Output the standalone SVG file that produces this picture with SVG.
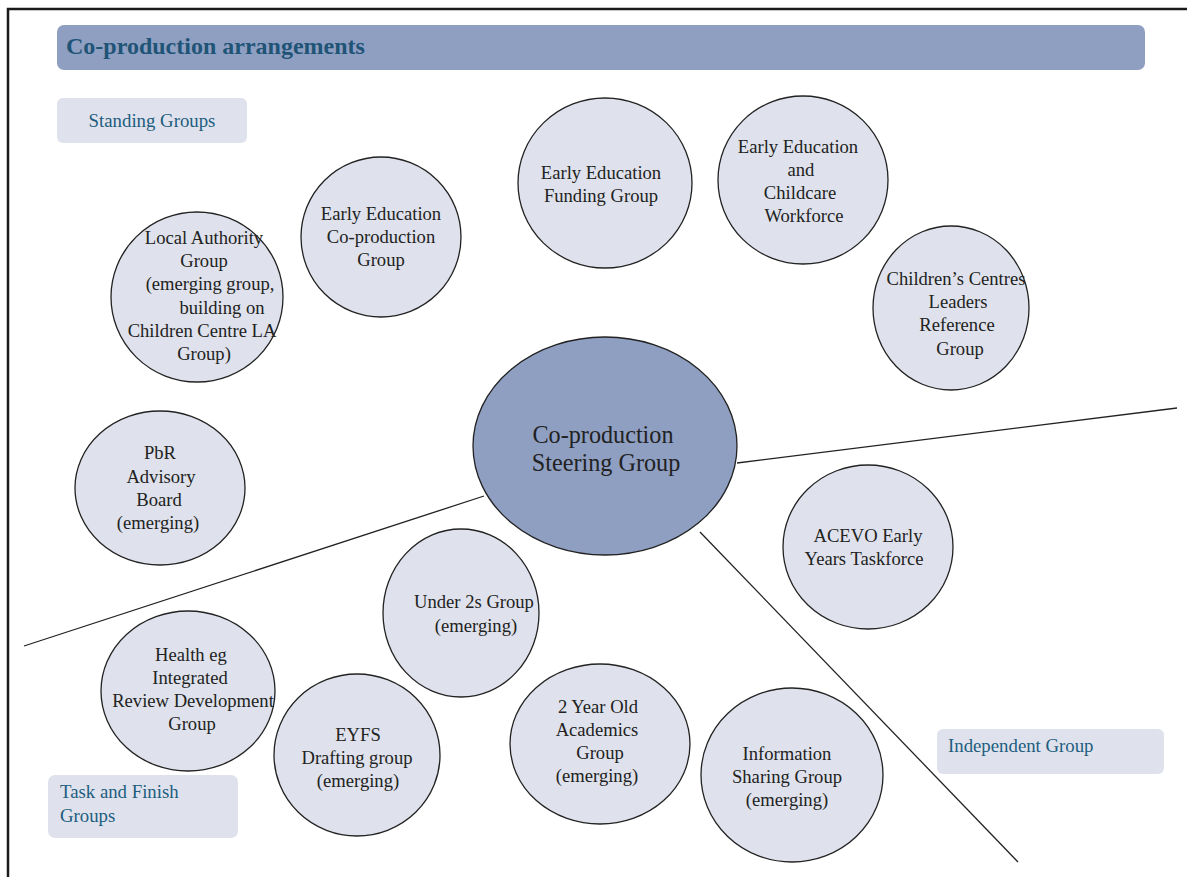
<svg xmlns="http://www.w3.org/2000/svg" width="1187" height="877" viewBox="0 0 1187 877">
<style>
.n{fill:#dfe2ec;stroke:#222;stroke-width:1.3}
.hub{fill:#8f9fc2;stroke:#222;stroke-width:1.3}
.t{font-family:"Liberation Serif","Times New Roman",serif;font-size:18.6px;fill:#222;text-anchor:middle}
.ht{font-family:"Liberation Serif","Times New Roman",serif;font-size:24.2px;fill:#222;text-anchor:middle}
.lb{fill:#dfe2ec}
.lt{font-family:"Liberation Serif","Times New Roman",serif;font-size:18.8px;fill:#215d80}
.c line{stroke:#222;stroke-width:1.3}
</style>
<rect width="1187" height="877" fill="#fff"/>
<path d="M8 877 V9 H1187" fill="none" stroke="#1a1a1a" stroke-width="2.5"/>
<g id="title">
<rect x="57" y="25" width="1088" height="45" rx="7" fill="#8f9fc2"/>
<text x="66" y="54" font-family="'Liberation Serif','Times New Roman',serif" font-size="24px" font-weight="bold" fill="#1f5476">Co-production arrangements</text>
</g>
<g id="label-standing"><rect class="lb" x="57" y="98" width="190" height="45" rx="6"/><text class="lt" x="152" y="127" text-anchor="middle">Standing Groups</text></g>
<g id="label-task"><rect class="lb" x="48" y="775" width="190" height="63" rx="7"/><text class="lt" x="60" y="798">Task and Finish</text><text class="lt" x="60" y="822">Groups</text></g>
<g id="label-independent"><rect class="lb" x="937" y="729" width="227" height="45" rx="6"/><text class="lt" x="948" y="752">Independent Group</text></g>
<g id="connectors" class="c">
<line x1="24" y1="646" x2="484" y2="496"/>
<line x1="737" y1="463" x2="1177" y2="408"/>
<line x1="700" y1="532" x2="1018" y2="862"/>
</g>
<g id="local-authority"><ellipse class="n" cx="197" cy="297" rx="86" ry="85"/>
<text class="t"><tspan x="204" y="244">Local Authority</tspan><tspan x="204" y="267">Group</tspan><tspan x="210" y="290">(emerging group,</tspan><tspan x="222" y="314">building on</tspan><tspan x="202" y="337">Children Centre LA</tspan><tspan x="204" y="360">Group)</tspan></text></g>
<g id="ee-coproduction"><ellipse class="n" cx="381" cy="237" rx="80" ry="80"/>
<text class="t"><tspan x="381" y="220">Early Education</tspan><tspan x="381" y="243">Co-production</tspan><tspan x="381" y="266">Group</tspan></text></g>
<g id="ee-funding"><ellipse class="n" cx="605" cy="183" rx="87" ry="85"/>
<text class="t"><tspan x="601" y="179">Early Education</tspan><tspan x="601" y="202">Funding Group</tspan></text></g>
<g id="ee-workforce"><ellipse class="n" cx="803" cy="180" rx="85" ry="84"/>
<text class="t"><tspan x="798" y="153">Early Education</tspan><tspan x="801" y="176">and</tspan><tspan x="800" y="199">Childcare</tspan><tspan x="804" y="222">Workforce</tspan></text></g>
<g id="childrens-centres"><ellipse class="n" cx="951" cy="308" rx="78" ry="82"/>
<text class="t"><tspan x="956" y="285">Children’s Centres</tspan><tspan x="958" y="308">Leaders</tspan><tspan x="957" y="331">Reference</tspan><tspan x="960" y="355">Group</tspan></text></g>
<g id="steering"><ellipse class="hub" cx="605" cy="446" rx="132" ry="109"/>
<text class="ht"><tspan x="603" y="443">Co-production</tspan><tspan x="606" y="471">Steering Group</tspan></text></g>
<g id="pbr"><ellipse class="n" cx="160" cy="488" rx="85" ry="77"/>
<text class="t"><tspan x="160" y="459">PbR</tspan><tspan x="161" y="483">Advisory</tspan><tspan x="159" y="506">Board</tspan><tspan x="158" y="529">(emerging)</tspan></text></g>
<g id="acevo"><ellipse class="n" cx="868" cy="547" rx="85" ry="82"/>
<text class="t"><tspan x="868" y="542">ACEVO Early</tspan><tspan x="864" y="565">Years Taskforce</tspan></text></g>
<g id="under2s"><ellipse class="n" cx="461" cy="613" rx="78" ry="84"/>
<text class="t"><tspan x="474" y="608">Under 2s Group</tspan><tspan x="476" y="632">(emerging)</tspan></text></g>
<g id="health"><ellipse class="n" cx="188" cy="691" rx="87" ry="80"/>
<text class="t"><tspan x="191" y="661">Health eg</tspan><tspan x="190" y="684">Integrated</tspan><tspan x="193" y="707">Review Development</tspan><tspan x="192" y="730">Group</tspan></text></g>
<g id="eyfs"><ellipse class="n" cx="357" cy="755" rx="83" ry="81"/>
<text class="t"><tspan x="358" y="741">EYFS</tspan><tspan x="357" y="764">Drafting group</tspan><tspan x="358" y="787">(emerging)</tspan></text></g>
<g id="two-year-old"><ellipse class="n" cx="600" cy="744" rx="90" ry="80"/>
<text class="t"><tspan x="598" y="713">2 Year Old</tspan><tspan x="597" y="736">Academics</tspan><tspan x="600" y="759">Group</tspan><tspan x="597" y="782">(emerging)</tspan></text></g>
<g id="info-sharing"><ellipse class="n" cx="792" cy="775" rx="91" ry="87"/>
<text class="t"><tspan x="787" y="760">Information</tspan><tspan x="787" y="783">Sharing Group</tspan><tspan x="787" y="806">(emerging)</tspan></text></g>
</svg>
